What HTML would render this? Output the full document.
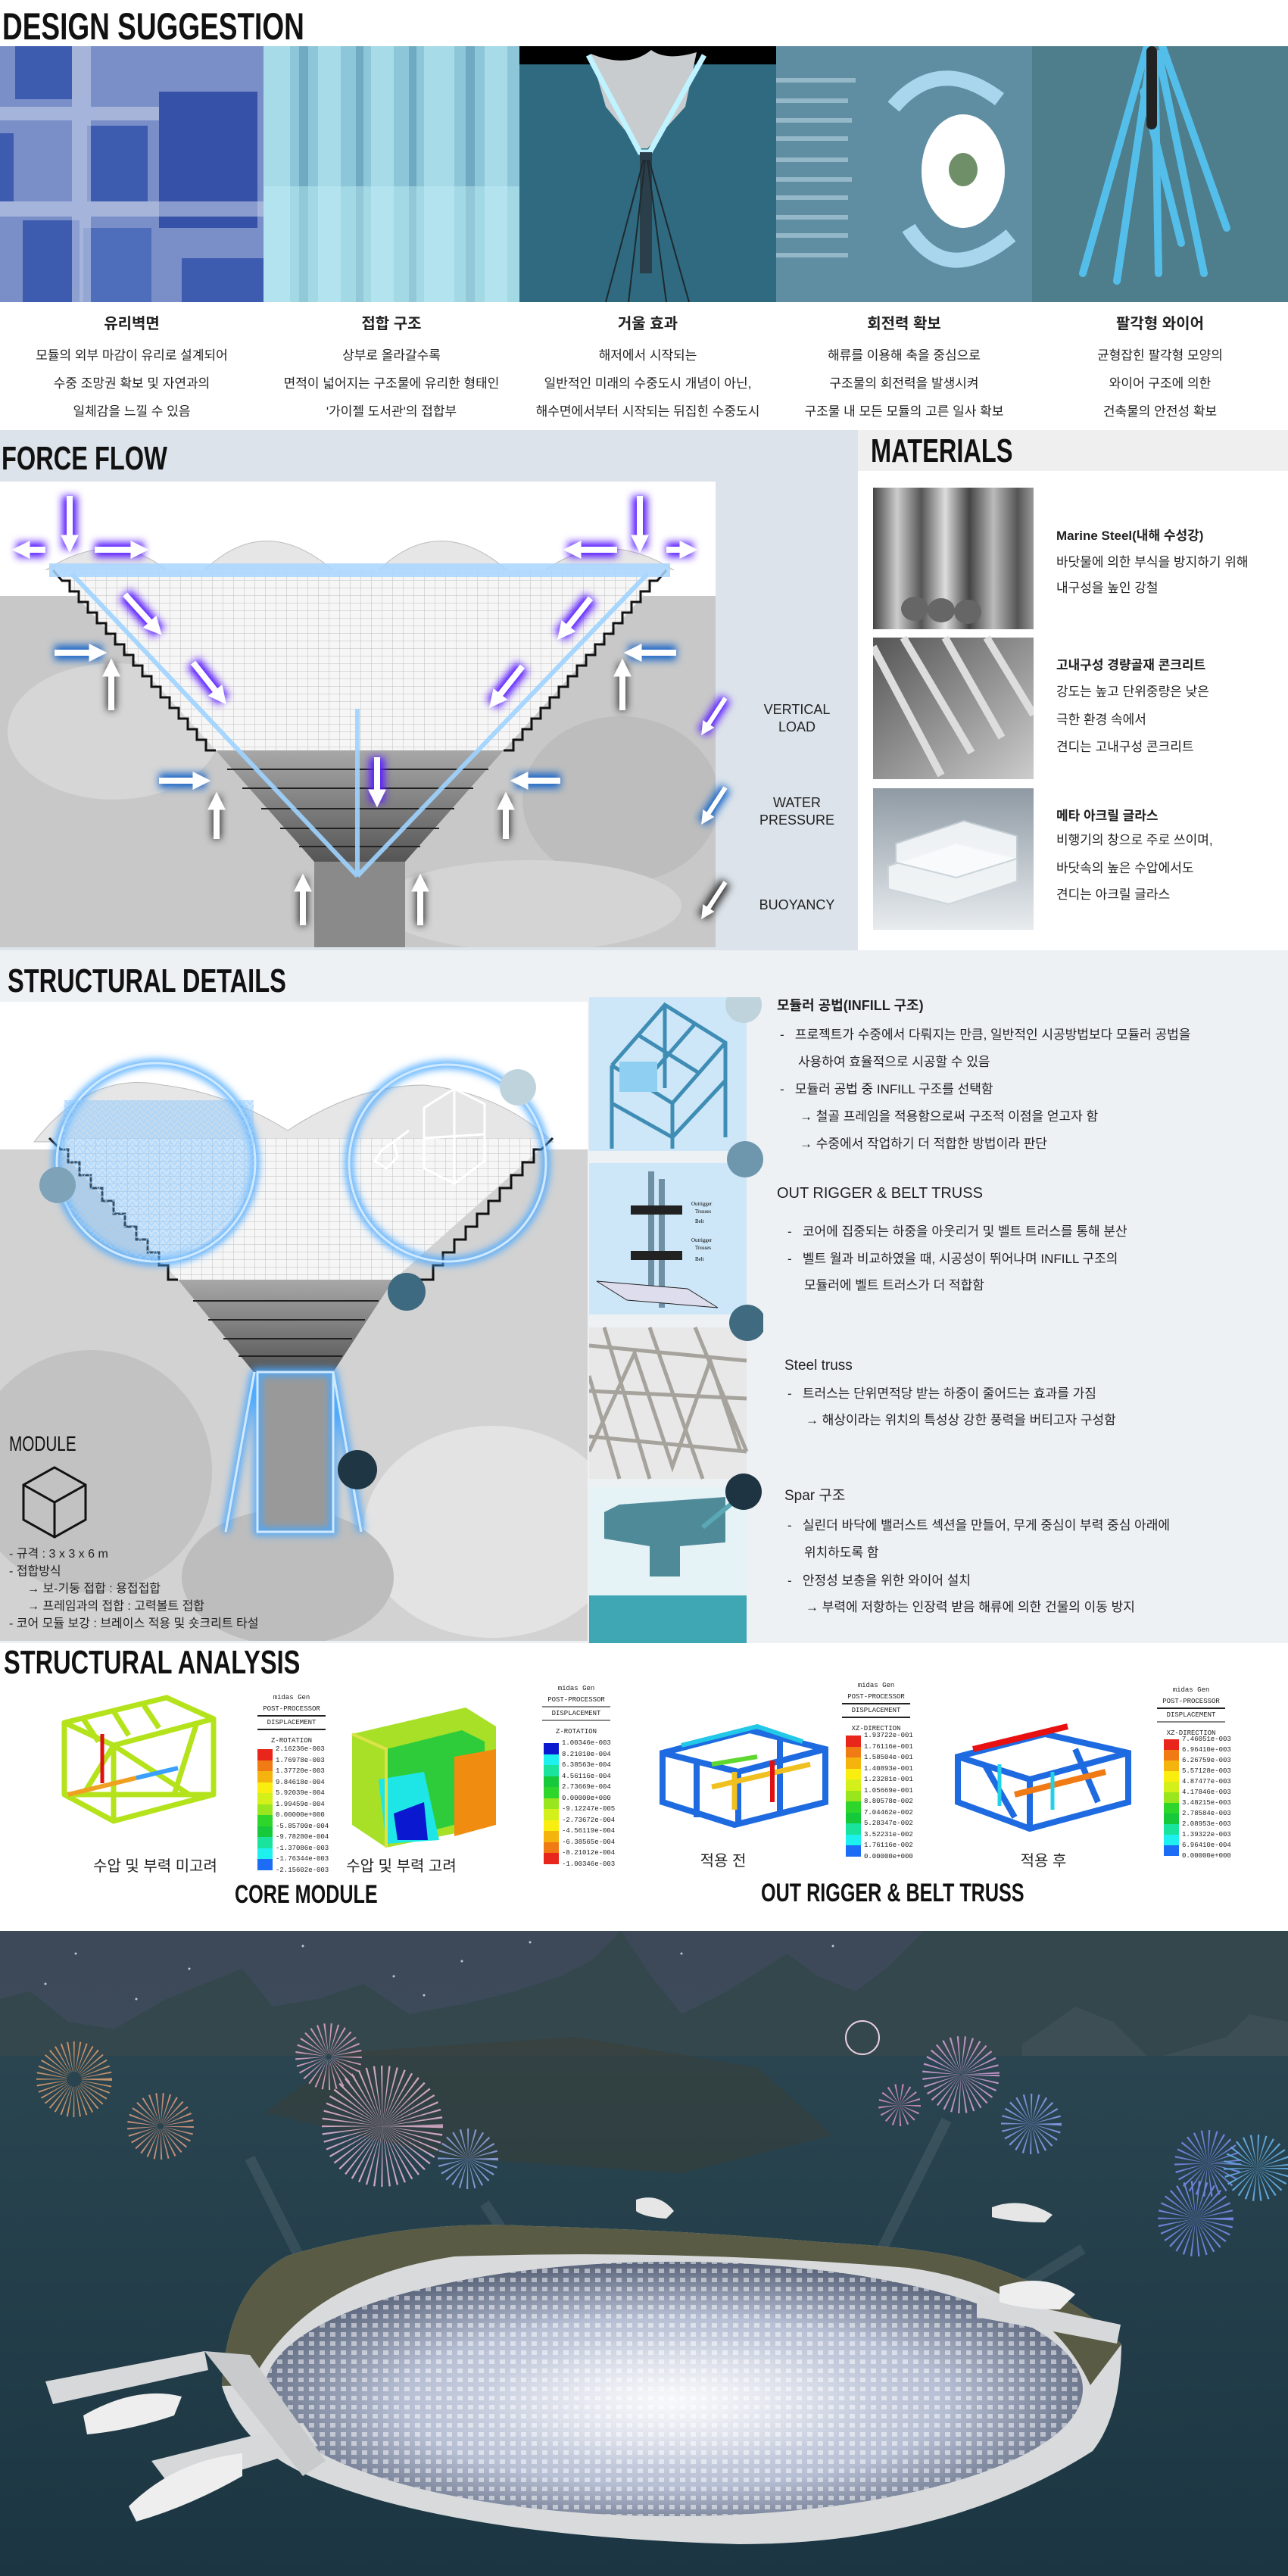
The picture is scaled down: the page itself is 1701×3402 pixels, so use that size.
<!DOCTYPE html>
<html><head><meta charset="utf-8">
<style>
*{margin:0;padding:0;box-sizing:border-box}
body{width:1701px;height:3402px;position:relative;background:#fff;font-family:"Liberation Sans","Noto Sans CJK KR",sans-serif;color:#222;overflow:hidden}
.a{position:absolute}
.h{position:absolute;font-family:"Liberation Sans Narrow","Liberation Sans",sans-serif;color:#111;transform-origin:left top;transform:scaleX(.74);white-space:nowrap;line-height:1;font-weight:bold}
.cap{position:absolute;text-align:center;font-size:17px;line-height:37px;white-space:nowrap}
.cap b{display:block;font-size:20px;margin-bottom:4px}
.t{position:absolute;font-size:17px;white-space:nowrap;line-height:1}
.tb{position:absolute;font-size:18px;font-weight:bold;white-space:nowrap;line-height:1}
.lg{position:absolute;font-family:"Liberation Mono",monospace;font-size:9px;color:#222;line-height:1}
.lg .hd{text-align:center;width:90px}
.bar{position:absolute;width:20px}
.bar div{height:var(--h)}
.vals{position:absolute;font-family:"Liberation Mono",monospace;font-size:9px;white-space:nowrap}
.vals div{height:var(--h);line-height:var(--h)}
</style></head><body>

<div class="h" style="left:3px;top:10px;font-size:50px">DESIGN SUGGESTION</div>

<svg class="a" style="left:0;top:61px" width="1701" height="338">
 <rect x="0" y="0" width="348" height="338" fill="#7a8fc8"/>
 <g fill="#3d5cb0"><rect x="20" y="0" width="75" height="70"/><rect x="115" y="105" width="80" height="100"/><rect x="0" y="115" width="18" height="90"/><rect x="30" y="230" width="75" height="108"/><rect x="210" y="60" width="130" height="180" fill="#3651a8"/><rect x="110" y="240" width="90" height="98" fill="#4e6dba"/><rect x="240" y="280" width="108" height="58"/></g>
 <g fill="#c3cde6" opacity=".6"><rect x="95" y="0" width="25" height="338"/><rect x="0" y="205" width="348" height="20"/><rect x="0" y="80" width="210" height="18"/></g>
 <rect x="348" y="0" width="338" height="338" fill="#8cc6d8"/>
 <g fill="#a8dbe8"><rect x="348" y="0" width="35" height="338"/><rect x="420" y="0" width="30" height="338"/><rect x="490" y="0" width="30" height="338"/><rect x="560" y="0" width="40" height="338"/><rect x="640" y="0" width="30" height="338"/></g>
 <g fill="#6fa9c2"><rect x="395" y="0" width="12" height="338"/><rect x="470" y="0" width="10" height="338"/><rect x="540" y="0" width="10" height="338"/><rect x="615" y="0" width="12" height="338"/></g>
 <rect x="348" y="185" width="338" height="153" fill="#bfeef6" opacity=".45"/>
 <rect x="686" y="0" width="339" height="338" fill="#2f6a80"/>
 <rect x="686" y="0" width="339" height="24" fill="#000"/>
 <path d="M780,10 Q830,30 860,5 Q880,20 920,8 L905,80 L855,135 L845,135 L800,80 Z" fill="#c9ccce"/>
 <path d="M777,12 L845,140 L858,140 L930,12" stroke="#bff3ff" stroke-width="7" fill="none"/>
 <rect x="845" y="140" width="16" height="160" fill="#2b3f4a"/>
 <g stroke="#1d2a30" stroke-width="2"><line x1="850" y1="150" x2="800" y2="338"/><line x1="852" y1="150" x2="830" y2="338"/><line x1="855" y1="150" x2="880" y2="338"/><line x1="857" y1="150" x2="910" y2="338"/></g>
 <rect x="1025" y="0" width="338" height="338" fill="#5f8ea3"/>
 <g stroke="#95b8c8" stroke-width="6"><line x1="1025" y1="45" x2="1130" y2="45"/><line x1="1025" y1="72" x2="1120" y2="72"/><line x1="1025" y1="98" x2="1125" y2="98"/><line x1="1025" y1="122" x2="1120" y2="122"/><line x1="1025" y1="150" x2="1120" y2="150"/><line x1="1025" y1="176" x2="1125" y2="176"/><line x1="1025" y1="200" x2="1120" y2="200"/><line x1="1025" y1="226" x2="1120" y2="226"/><line x1="1025" y1="250" x2="1120" y2="250"/><line x1="1025" y1="276" x2="1120" y2="276"/></g>
 <path d="M1180,80 Q1240,10 1320,70" stroke="#a9d6ec" stroke-width="20" fill="none"/>
 <path d="M1200,240 Q1250,320 1335,250" stroke="#a9d6ec" stroke-width="20" fill="none"/>
 <ellipse cx="1272" cy="165" rx="55" ry="75" fill="#fff"/>
 <ellipse cx="1272" cy="163" rx="19" ry="22" fill="#6e8f68"/>
 <rect x="1363" y="0" width="338" height="338" fill="#4e7d8b"/>
 <g stroke="#55c6f5" stroke-width="10" stroke-linecap="round" opacity=".9"><line x1="1515" y1="0" x2="1430" y2="300"/><line x1="1520" y1="10" x2="1475" y2="310"/><line x1="1525" y1="10" x2="1530" y2="300"/><line x1="1530" y1="10" x2="1590" y2="300"/><line x1="1535" y1="0" x2="1620" y2="240"/><line x1="1510" y1="60" x2="1560" y2="260"/></g>
 <rect x="1514" y="0" width="14" height="110" fill="#222" rx="7"/>
</svg>

<div class="cap" style="left:0;width:348px;top:410px"><b>유리벽면</b>모듈의 외부 마감이 유리로 설계되어<br>수중 조망권 확보 및 자연과의<br>일체감을 느낄 수 있음</div>
<div class="cap" style="left:348px;width:338px;top:410px"><b>접합 구조</b>상부로 올라갈수록<br>면적이 넓어지는 구조물에 유리한 형태인<br>'가이젤 도서관'의 접합부</div>
<div class="cap" style="left:686px;width:339px;top:410px"><b>거울 효과</b>해저에서 시작되는<br>일반적인 미래의 수중도시 개념이 아닌,<br>해수면에서부터 시작되는 뒤집힌 수중도시</div>
<div class="cap" style="left:1025px;width:338px;top:410px"><b>회전력 확보</b>해류를 이용해 축을 중심으로<br>구조물의 회전력을 발생시켜<br>구조물 내 모든 모듈의 고른 일사 확보</div>
<div class="cap" style="left:1363px;width:338px;top:410px"><b>팔각형 와이어</b>균형잡힌 팔각형 모양의<br>와이어 구조에 의한<br>건축물의 안전성 확보</div>

<div class="a" style="left:0;top:568px;width:1133px;height:690px;background:#dce3ea"></div>
<div class="h" style="left:2px;top:584px;font-size:44px">FORCE FLOW</div>
<div class="a" style="left:1133px;top:568px;width:568px;height:54px;background:#efefef"></div>
<div class="a" style="left:1133px;top:622px;width:568px;height:636px;background:#fff"></div>
<div class="h" style="left:1150px;top:574px;font-size:44px">MATERIALS</div>

<svg class="a" style="left:0;top:636px" width="945" height="615">
 <defs>
  <filter id="gp" x="-50%" y="-50%" width="200%" height="200%"><feGaussianBlur stdDeviation="5"/></filter>
  <marker id="ah" markerWidth="3" markerHeight="3" refX="1.2" refY="1.5" orient="auto"><path d="M0,0 L3,1.5 L0,3 Z" fill="#fff"/></marker>
  <pattern id="grid" width="14" height="10" patternUnits="userSpaceOnUse"><path d="M0,0 H14 M0,0 V10" stroke="#bdbdbd" stroke-width="1" fill="none"/></pattern>
  <linearGradient id="dk" x1="0" y1="0" x2="0" y2="1"><stop offset="0" stop-color="#a8a8a8"/><stop offset="1" stop-color="#555"/></linearGradient>
 </defs>
 <rect width="945" height="151" fill="#fff"/>
 <rect y="151" width="945" height="464" fill="#c8c8c8"/>
 <ellipse cx="150" cy="330" rx="140" ry="90" fill="#d6d6d6"/><ellipse cx="820" cy="420" rx="130" ry="110" fill="#bdbdbd"/><ellipse cx="700" cy="560" rx="200" ry="60" fill="#d4d4d4"/>
 <path d="M60,117 Q150,60 220,117 M270,117 Q350,40 440,117 M500,117 Q580,40 670,117 M720,117 Q800,60 890,117" fill="#e6e6e6" stroke="#bbb"/>
 <polygon points="70,117 880,117 665,355 285,355" fill="#f6f6f6"/>
 <polygon points="70,117 880,117 665,355 285,355" fill="url(#grid)"/>
 <polyline points="70,117 82,131 92,131 92,145 104,145 104,159 116,159 116,173 128,173 128,187 140,187 140,201 152,201 152,215 164,215 164,229 176,229 176,243 188,243 188,257 200,257 200,271 212,271 212,285 224,285 224,299 236,299 236,313 248,313 248,327 260,327 260,341 272,341 272,355 285,355" fill="none" stroke="#111" stroke-width="3"/>
 <polyline points="880,117 868,131 858,131 858,145 846,145 846,159 834,159 834,173 822,173 822,187 810,187 810,201 798,201 798,215 786,215 786,229 774,229 774,243 762,243 762,257 750,257 750,271 738,271 738,285 726,285 726,299 714,299 714,313 702,313 702,327 690,327 690,341 678,341 678,355 665,355" fill="none" stroke="#111" stroke-width="3"/>
 <polygon points="285,355 665,355 535,502 415,502" fill="url(#dk)"/>
 <g stroke="#222" stroke-width="2"><line x1="300" y1="380" x2="645" y2="380"/><line x1="320" y1="405" x2="625" y2="405"/><line x1="345" y1="432" x2="600" y2="432"/><line x1="370" y1="458" x2="580" y2="458"/><line x1="395" y1="482" x2="555" y2="482"/></g>
 <rect x="415" y="502" width="120" height="113" fill="#8a8a8a"/>
 <g stroke="#9fd3ff" stroke-width="6" fill="none" opacity=".9"><line x1="95" y1="122" x2="472" y2="521"/><line x1="855" y1="122" x2="472" y2="521"/><line x1="472" y1="300" x2="472" y2="521"/></g>
 <rect x="65" y="108" width="820" height="18" fill="#a8d6ff" opacity=".85"/>
 <g stroke="#5a1fff" stroke-width="20" filter="url(#gp)">
  <line x1="92" y1="19" x2="92" y2="89"/><line x1="845" y1="19" x2="845" y2="89"/>
  <line x1="60" y1="90" x2="22" y2="90"/><line x1="125" y1="90" x2="190" y2="90"/><line x1="815" y1="90" x2="750" y2="90"/><line x1="880" y1="90" x2="915" y2="90"/>
  <line x1="165" y1="149" x2="210" y2="199"/><line x1="255" y1="239" x2="295" y2="289"/><line x1="780" y1="154" x2="740" y2="204"/><line x1="690" y1="244" x2="650" y2="294"/><line x1="498" y1="364" x2="498" y2="424"/>
 </g>
 <g stroke="#1e67c8" stroke-width="20" filter="url(#gp)">
  <line x1="72" y1="226" x2="135" y2="226"/><line x1="893" y1="226" x2="830" y2="226"/><line x1="210" y1="395" x2="272" y2="395"/><line x1="740" y1="395" x2="680" y2="395"/>
 </g>
 <g stroke="#333" stroke-width="12" filter="url(#gp)">
  <line x1="147" y1="302" x2="147" y2="240"/><line x1="822" y1="302" x2="822" y2="240"/><line x1="286" y1="472" x2="286" y2="416"/><line x1="668" y1="472" x2="668" y2="416"/><line x1="400" y1="586" x2="400" y2="524"/><line x1="555" y1="586" x2="555" y2="524"/>
 </g>
 <g stroke="#fff" stroke-width="8" marker-end="url(#ah)">
  <line x1="92" y1="19" x2="92" y2="80"/><line x1="845" y1="19" x2="845" y2="80"/>
  <line x1="60" y1="90" x2="30" y2="90"/><line x1="125" y1="90" x2="182" y2="90"/><line x1="815" y1="90" x2="758" y2="90"/><line x1="880" y1="90" x2="907" y2="90"/>
  <line x1="165" y1="149" x2="204" y2="192"/><line x1="255" y1="239" x2="290" y2="283"/><line x1="780" y1="154" x2="745" y2="198"/><line x1="690" y1="244" x2="655" y2="288"/><line x1="498" y1="364" x2="498" y2="416"/>
  <line x1="72" y1="226" x2="127" y2="226"/><line x1="893" y1="226" x2="838" y2="226"/><line x1="210" y1="395" x2="264" y2="395"/><line x1="740" y1="395" x2="688" y2="395"/>
  <line x1="147" y1="302" x2="147" y2="248"/><line x1="822" y1="302" x2="822" y2="248"/><line x1="286" y1="472" x2="286" y2="424"/><line x1="668" y1="472" x2="668" y2="424"/><line x1="400" y1="586" x2="400" y2="532"/><line x1="555" y1="586" x2="555" y2="532"/>
 </g>
</svg>

<svg class="a" style="left:900px;top:900px" width="80" height="340">
 <g stroke-width="16" filter="url(#gp)"><line x1="58" y1="22" x2="28" y2="68" stroke="#5a1fff"/><line x1="58" y1="140" x2="28" y2="186" stroke="#1e67c8"/><line x1="58" y1="265" x2="28" y2="311" stroke="#333"/></g>
 <g stroke="#fff" stroke-width="6" marker-end="url(#ah)"><line x1="58" y1="22" x2="32" y2="62"/><line x1="58" y1="140" x2="32" y2="180"/><line x1="58" y1="265" x2="32" y2="305"/></g>
</svg>
<div class="a" style="left:1000px;top:926px;width:105px;text-align:center;font-size:18px;line-height:23px">VERTICAL<br>LOAD</div>
<div class="a" style="left:1000px;top:1049px;width:105px;text-align:center;font-size:18px;line-height:23px">WATER<br>PRESSURE</div>
<div class="a" style="left:995px;top:1184px;width:115px;text-align:center;font-size:18px;line-height:23px">BUOYANCY</div>

<svg class="a" style="left:1153px;top:644px" width="212" height="584">
 <defs>
  <linearGradient id="st" x1="0" y1="0" x2="1" y2="0"><stop offset="0" stop-color="#444"/><stop offset=".15" stop-color="#ccc"/><stop offset=".3" stop-color="#555"/><stop offset=".45" stop-color="#ddd"/><stop offset=".6" stop-color="#444"/><stop offset=".75" stop-color="#bbb"/><stop offset=".9" stop-color="#555"/><stop offset="1" stop-color="#999"/></linearGradient>
  <linearGradient id="cc" x1="0" y1="0" x2="1" y2="1"><stop offset="0" stop-color="#555"/><stop offset="1" stop-color="#ccc"/></linearGradient>
  <linearGradient id="gl" x1="0" y1="0" x2="0" y2="1"><stop offset="0" stop-color="#8f9aa4"/><stop offset="1" stop-color="#e8ecef"/></linearGradient>
 </defs>
 <rect width="212" height="187" fill="url(#st)"/>
 <g fill="#666"><ellipse cx="55" cy="160" rx="18" ry="16"/><ellipse cx="90" cy="162" rx="18" ry="16"/><ellipse cx="125" cy="164" rx="18" ry="16"/></g>
 <rect y="198" width="212" height="187" fill="url(#cc)"/>
 <g stroke="#ddd" stroke-width="10"><line x1="0" y1="210" x2="90" y2="380"/><line x1="40" y1="198" x2="130" y2="350"/><line x1="95" y1="198" x2="170" y2="330"/><line x1="150" y1="198" x2="212" y2="300"/></g>
 <rect y="397" width="212" height="187" fill="url(#gl)"/>
 <path d="M20,500 L110,470 L190,490 L190,520 L100,550 L20,530 Z" fill="#f4f7f8" stroke="#cdd6dc" stroke-width="2" opacity=".9"/>
 <path d="M30,470 L120,440 L190,460 L190,490 L110,515 L30,495 Z" fill="#fafcfd" stroke="#c4cfd6" stroke-width="2" opacity=".85"/>
</svg>
<div class="tb" style="left:1395px;top:699px;font-size:17px">Marine Steel(내해 수성강)</div>
<div class="t" style="left:1395px;top:734px">바닷물에 의한 부식을 방지하기 위해</div>
<div class="t" style="left:1395px;top:768px">내구성을 높인 강철</div>
<div class="tb" style="left:1395px;top:870px;font-size:17px">고내구성 경량골재 콘크리트</div>
<div class="t" style="left:1395px;top:905px">강도는 높고 단위중량은 낮은</div>
<div class="t" style="left:1395px;top:942px">극한 환경 속에서</div>
<div class="t" style="left:1395px;top:978px">견디는 고내구성 콘크리트</div>
<div class="tb" style="left:1395px;top:1069px;font-size:17px">메타 아크릴 글라스</div>
<div class="t" style="left:1395px;top:1101px">비행기의 창으로 주로 쓰이며,</div>
<div class="t" style="left:1395px;top:1138px">바닷속의 높은 수압에서도</div>
<div class="t" style="left:1395px;top:1173px">견디는 아크릴 글라스</div>

<div class="a" style="left:0;top:1255px;width:1701px;height:915px;background:#edf1f4"></div>
<div class="h" style="left:10px;top:1274px;font-size:44px">STRUCTURAL DETAILS</div>
<svg class="a" style="left:0;top:1323px" width="776" height="844">
 <defs>
  <filter id="gb" x="-20%" y="-20%" width="140%" height="140%"><feGaussianBlur stdDeviation="5"/></filter>
  <pattern id="hx" width="10" height="8" patternUnits="userSpaceOnUse"><path d="M0,8 L5,0 L10,8" stroke="#9fd2ff" fill="none" stroke-width="1.2"/></pattern>
 </defs>
 <rect width="776" height="844" fill="#d2d2d2"/>
 <rect width="776" height="195" fill="#fff"/>
 <ellipse cx="120" cy="620" rx="160" ry="160" fill="#c2c2c2"/><ellipse cx="650" cy="700" rx="170" ry="140" fill="#e3e3e3"/><ellipse cx="380" cy="760" rx="140" ry="90" fill="#bdbdbd"/>
 <path d="M45,185 Q120,90 215,110 Q300,120 380,170 Q470,110 560,110 Q660,120 730,185 Z" fill="#e6e6e6" stroke="#bbb"/>
 <polygon points="65,180 730,180 520,367 235,367" fill="#f6f6f6"/>
 <polygon points="65,180 730,180 520,367 235,367" fill="url(#grid)"/>
 <polyline points="65,180 80,195 90,195 90,212 105,212 105,229 120,229 120,246 135,246 135,263 150,263 150,280 165,280 165,297 180,297 180,314 195,314 195,331 210,331 210,348 222,348 222,367 235,367" fill="none" stroke="#111" stroke-width="3"/>
 <polyline points="730,180 715,195 705,195 705,212 690,212 690,229 675,229 675,246 660,246 660,263 645,263 645,280 630,280 630,297 615,297 615,314 600,314 600,331 585,331 585,348 572,348 572,367 520,367" fill="none" stroke="#111" stroke-width="3"/>
 <polygon points="235,367 520,367 440,489 335,489" fill="url(#dk)"/>
 <g stroke="#222" stroke-width="2"><line x1="255" y1="395" x2="500" y2="395"/><line x1="275" y1="420" x2="482" y2="420"/><line x1="295" y1="445" x2="465" y2="445"/><line x1="315" y1="468" x2="452" y2="468"/></g>
 <rect x="340" y="489" width="100" height="211" fill="#999"/>
 <g stroke="#4aa8ff" stroke-width="10" fill="none" filter="url(#gb)"><rect x="340" y="489" width="100" height="211"/><line x1="336" y1="489" x2="298" y2="700"/><line x1="440" y1="489" x2="477" y2="700"/><circle cx="206" cy="212" r="131"/><circle cx="591" cy="213" r="130"/></g>
 <g stroke="#cfe9ff" stroke-width="3" fill="none"><rect x="340" y="489" width="100" height="211"/><line x1="336" y1="489" x2="298" y2="700"/><line x1="440" y1="489" x2="477" y2="700"/><circle cx="206" cy="212" r="131"/><circle cx="591" cy="213" r="130"/></g>
 <path d="M85,130 L335,130 L335,230 Q300,320 206,343 Q120,330 80,260 Z" fill="#7bc0ff" opacity=".35"/>
 <path d="M85,130 L335,130 L335,230 Q300,320 206,343 Q120,330 80,260 Z" fill="url(#hx)" opacity=".8"/>
 <g stroke="#fff" stroke-width="3" fill="none"><path d="M600,115 L640,135 L640,210 L600,240 L560,220 L560,140 Z"/><line x1="600" y1="115" x2="600" y2="240"/><line x1="560" y1="180" x2="640" y2="175"/><path d="M540,170 L520,185 M505,195 L520,185 L525,205 L510,220 L495,210 Z"/></g>
 <circle cx="76" cy="242" r="24" fill="#7ea3b8"/>
 <circle cx="684" cy="113" r="24" fill="#bfd3dd"/>
 <circle cx="537" cy="383" r="25" fill="#3d6a80"/>
 <circle cx="472" cy="618" r="26" fill="#1f3644"/>
</svg>
<div class="h" style="left:12px;top:1893px;font-size:28px;font-weight:normal">MODULE</div>
<svg class="a" style="left:28px;top:1935px" width="90" height="98"><path d="M44,3 L85,26 L85,72 L44,95 L3,72 L3,26 Z M3,26 L44,49 L85,26 M44,49 L44,95" fill="none" stroke="#111" stroke-width="3"/></svg>
<div class="t" style="left:12px;top:2045px;font-size:16px">- 규격 : 3 x 3 x 6 m</div>
<div class="t" style="left:12px;top:2068px;font-size:16px">- 접합방식</div>
<div class="t" style="left:36px;top:2091px;font-size:16px">→ 보-기둥 접합 : 용접접합</div>
<div class="t" style="left:36px;top:2114px;font-size:16px">→ 프레임과의 접합 : 고력볼트 접합</div>
<div class="t" style="left:12px;top:2137px;font-size:16px">- 코어 모듈 보강 : 브레이스 적용 및 숏크리트 타설</div>

<svg class="a" style="left:778px;top:1317px" width="230" height="853">
 <rect x="0" y="0" width="208" height="203" fill="#cde7f8"/>
 <g stroke="#3f8db5" stroke-width="5" fill="none"><path d="M30,90 L100,10 L180,60 L180,185 M100,10 L100,120 M30,90 L30,200 M30,90 L110,140 L180,60 M110,140 L110,200 M30,140 L110,185 L180,110 M65,50 L145,100 M140,35 L70,115"/></g>
 <rect x="40" y="85" width="50" height="40" fill="#8fd0f2"/>
 <rect x="0" y="219" width="208" height="200" fill="#cde7f8"/>
 <rect x="78" y="230" width="8" height="170" fill="#6e8fa4"/><rect x="92" y="240" width="8" height="170" fill="#6e8fa4"/>
 <g fill="#222"><rect x="55" y="275" width="68" height="12"/><rect x="55" y="335" width="68" height="12"/></g>
 <path d="M10,375 L130,385 L170,410 L50,400 Z" fill="#dde" stroke="#222"/>
 <text x="135" y="275" font-size="7" font-family="Liberation Serif">Outrigger</text><text x="140" y="285" font-size="7" font-family="Liberation Serif">Trusses</text><text x="140" y="298" font-size="7" font-family="Liberation Serif">Belt</text>
 <text x="135" y="323" font-size="7" font-family="Liberation Serif">Outrigger</text><text x="140" y="333" font-size="7" font-family="Liberation Serif">Trusses</text><text x="140" y="348" font-size="7" font-family="Liberation Serif">Belt</text>
 <rect x="0" y="436" width="208" height="200" fill="#e8e8e8"/>
 <g stroke="#a5a39c" stroke-width="5" fill="none"><path d="M0,460 L208,480 M0,520 L208,530 M0,580 L208,600 M20,436 L80,636 M80,436 L150,636 M140,436 L208,600 M0,600 L60,470 L110,620 L160,480 L200,600 M0,500 L40,636"/></g>
 <rect x="0" y="647" width="208" height="206" fill="#e6f3f6"/>
 <path d="M20,680 L40,670 L180,660 L180,720 L120,725 L120,765 L80,765 L80,725 L20,715 Z" fill="#4f8a99"/>
 <path d="M150,700 L205,655" stroke="#5aa8b5" stroke-width="6"/>
 <rect x="0" y="790" width="208" height="63" fill="#3fa6b3"/>
 <circle cx="204" cy="10" r="24" fill="#bfd3dd"/>
 <circle cx="206" cy="214" r="24" fill="#6e97ad"/>
 <circle cx="209" cy="430" r="24" fill="#3f6a80"/>
 <circle cx="204" cy="653" r="24" fill="#1e3442"/>
</svg>

<div class="tb" style="left:1026px;top:1319px">모듈러 공법(INFILL 구조)</div>
<div class="t" style="left:1030px;top:1358px">-&nbsp;&nbsp; 프로젝트가 수중에서 다뤄지는 만큼, 일반적인 시공방법보다 모듈러 공법을</div>
<div class="t" style="left:1054px;top:1394px">사용하여 효율적으로 시공할 수 있음</div>
<div class="t" style="left:1030px;top:1430px">-&nbsp;&nbsp; 모듈러 공법 중 INFILL 구조를 선택함</div>
<div class="t" style="left:1056px;top:1466px">→ 철골 프레임을 적용함으로써 구조적 이점을 얻고자 함</div>
<div class="t" style="left:1056px;top:1502px">→ 수중에서 작업하기 더 적합한 방법이라 판단</div>
<div class="t" style="left:1026px;top:1566px;font-size:20px">OUT RIGGER &amp; BELT TRUSS</div>
<div class="t" style="left:1040px;top:1618px">-&nbsp;&nbsp; 코어에 집중되는 하중을 아웃리거 및 벨트 트러스를 통해 분산</div>
<div class="t" style="left:1040px;top:1654px">-&nbsp;&nbsp; 벨트 월과 비교하였을 때, 시공성이 뛰어나며 INFILL 구조의</div>
<div class="t" style="left:1062px;top:1689px">모듈러에 벨트 트러스가 더 적합함</div>
<div class="t" style="left:1036px;top:1794px;font-size:19px">Steel truss</div>
<div class="t" style="left:1040px;top:1832px">-&nbsp;&nbsp; 트러스는 단위면적당 받는 하중이 줄어드는 효과를 가짐</div>
<div class="t" style="left:1064px;top:1867px">→ 해상이라는 위치의 특성상 강한 풍력을 버티고자 구성함</div>
<div class="t" style="left:1036px;top:1966px;font-size:19px">Spar 구조</div>
<div class="t" style="left:1040px;top:2006px">-&nbsp;&nbsp; 실린더 바닥에 밸러스트 섹션을 만들어, 무게 중심이 부력 중심 아래에</div>
<div class="t" style="left:1062px;top:2042px">위치하도록 함</div>
<div class="t" style="left:1040px;top:2079px">-&nbsp;&nbsp; 안정성 보충을 위한 와이어 설치</div>
<div class="t" style="left:1064px;top:2114px">→ 부력에 저항하는 인장력 받음 해류에 의한 건물의 이동 방지</div>

<div class="h" style="left:5px;top:2174px;font-size:44px">STRUCTURAL ANALYSIS</div>
<svg class="a" style="left:0;top:2230px" width="1701" height="220">
 <g stroke="#b4e31c" stroke-width="7" fill="none" stroke-linejoin="round">
  <path d="M85,45 L220,12 L282,40 L282,140 L150,175 L85,140 Z M85,45 L150,75 L282,40 M150,75 L150,175 M85,140 L282,140"/>
  <path d="M110,40 L130,70 M150,30 L170,62 M190,22 L210,52 M150,75 L110,140 M150,75 L250,140 M260,45 L230,140"/>
 </g>
 <line x1="90" y1="140" x2="180" y2="118" stroke="#f0a020" stroke-width="6"/><line x1="180" y1="118" x2="235" y2="105" stroke="#3aa0ff" stroke-width="6"/>
 <line x1="135" y1="60" x2="135" y2="125" stroke="#e01010" stroke-width="5"/>
 <path d="M465,60 L615,25 L655,50 L655,180 L510,210 L465,180 Z" fill="#a8e028"/>
 <path d="M510,80 L610,55 L640,70 L640,170 L560,190 L510,160 Z" fill="#2ecc3a"/>
 <path d="M500,120 L560,110 L580,200 L510,205 Z" fill="#1ee6e6"/>
 <path d="M520,165 L560,150 L565,200 L525,200 Z" fill="#0a18d0"/>
 <path d="M600,90 L655,80 L655,180 L600,195 Z" fill="#f08c10"/>
 <path d="M465,60 L510,80 L510,210" fill="none" stroke="#dde24a" stroke-width="4"/>
 <g stroke="#1e6ae0" stroke-width="8" fill="none"><path d="M875,85 L990,55 L1090,80 L1090,150 L970,180 L875,150 Z M875,85 L975,110 L1090,80 M975,110 L975,180 M920,95 L920,170 M1030,65 L1030,165"/></g>
 <g stroke="#22c8e8" stroke-width="6" fill="none"><path d="M900,75 L1000,50 L1060,70"/></g>
 <g stroke="#f0c020" stroke-width="7"><line x1="940" y1="130" x2="1070" y2="100"/><line x1="970" y1="110" x2="970" y2="160"/></g>
 <line x1="1020" y1="95" x2="1020" y2="150" stroke="#e01010" stroke-width="6"/>
 <line x1="940" y1="100" x2="1000" y2="90" stroke="#5ed830" stroke-width="6"/>
 <g stroke="#1e6ae0" stroke-width="8" fill="none"><path d="M1265,90 L1380,60 L1490,85 L1490,150 L1360,185 L1265,150 Z M1265,90 L1360,120 L1490,85 M1360,120 L1360,185 M1300,100 L1340,170 M1420,80 L1450,150"/></g>
 <line x1="1285" y1="80" x2="1410" y2="50" stroke="#e81010" stroke-width="8"/>
 <line x1="1340" y1="140" x2="1460" y2="110" stroke="#f07a14" stroke-width="8"/>
 <g stroke="#22d0e8" stroke-width="5"><line x1="1390" y1="110" x2="1390" y2="160"/><line x1="1320" y1="100" x2="1320" y2="155"/></g>
</svg>

<div class="lg" style="left:340px;top:2238px;width:100px">
 <div class="hd">midas Gen</div><div class="hd" style="margin-top:6px;border-bottom:2px solid #222;padding-bottom:3px">POST-PROCESSOR</div><div class="hd" style="margin-top:4px;border-bottom:2px solid #222;padding-bottom:3px">DISPLACEMENT</div><div class="hd" style="margin-top:10px">Z-ROTATION</div>
</div>
<div class="bar" style="left:340px;top:2310px;--h:14.5px"><div style="background:#e8261b"></div><div style="background:#f07a14"></div><div style="background:#f5b30e"></div><div style="background:#f9ee10"></div><div style="background:#d4f01a"></div><div style="background:#9ae61e"></div><div style="background:#2ed62b"></div><div style="background:#16c93a"></div><div style="background:#19e39d"></div><div style="background:#1ef0f0"></div><div style="background:#1c6cf5"></div></div>
<div class="vals" style="left:364px;top:2303px;--h:14.5px"><div>2.16236e-003</div><div>1.76978e-003</div><div>1.37720e-003</div><div>9.84618e-004</div><div>5.92039e-004</div><div>1.99459e-004</div><div>0.00000e+000</div><div>-5.85700e-004</div><div>-9.78280e-004</div><div>-1.37086e-003</div><div>-1.76344e-003</div><div>-2.15602e-003</div></div>

<div class="lg" style="left:716px;top:2226px;width:100px">
 <div class="hd">midas Gen</div><div class="hd" style="margin-top:6px;border-bottom:2px solid #888;padding-bottom:3px">POST-PROCESSOR</div><div class="hd" style="margin-top:4px;border-bottom:2px solid #888;padding-bottom:3px">DISPLACEMENT</div><div class="hd" style="margin-top:10px">Z-ROTATION</div>
</div>
<div class="bar" style="left:718px;top:2302px;--h:14.5px"><div style="background:#0a18d0"></div><div style="background:#1ef0f0"></div><div style="background:#19e39d"></div><div style="background:#16c93a"></div><div style="background:#2ed62b"></div><div style="background:#9ae61e"></div><div style="background:#d4f01a"></div><div style="background:#f9ee10"></div><div style="background:#f5b30e"></div><div style="background:#f07a14"></div><div style="background:#e8261b"></div></div>
<div class="vals" style="left:742px;top:2295px;--h:14.5px"><div>1.00346e-003</div><div>8.21010e-004</div><div>6.38563e-004</div><div>4.56116e-004</div><div>2.73669e-004</div><div>0.00000e+000</div><div>-9.12247e-005</div><div>-2.73672e-004</div><div>-4.56119e-004</div><div>-6.38565e-004</div><div>-8.21012e-004</div><div>-1.00346e-003</div></div>

<div class="lg" style="left:1112px;top:2222px;width:100px">
 <div class="hd">midas Gen</div><div class="hd" style="margin-top:6px;border-bottom:2px solid #222;padding-bottom:3px">POST-PROCESSOR</div><div class="hd" style="margin-top:4px;border-bottom:2px solid #222;padding-bottom:3px">DISPLACEMENT</div><div class="hd" style="margin-top:10px">XZ-DIRECTION</div>
</div>
<div class="bar" style="left:1117px;top:2292px;--h:14.5px"><div style="background:#e8261b"></div><div style="background:#f07a14"></div><div style="background:#f5b30e"></div><div style="background:#f9ee10"></div><div style="background:#d4f01a"></div><div style="background:#9ae61e"></div><div style="background:#2ed62b"></div><div style="background:#16c93a"></div><div style="background:#19e39d"></div><div style="background:#1ef0f0"></div><div style="background:#1c6cf5"></div></div>
<div class="vals" style="left:1141px;top:2285px;--h:14.5px"><div>1.93722e-001</div><div>1.76116e-001</div><div>1.58504e-001</div><div>1.40893e-001</div><div>1.23281e-001</div><div>1.05669e-001</div><div>8.80578e-002</div><div>7.04462e-002</div><div>5.28347e-002</div><div>3.52231e-002</div><div>1.76116e-002</div><div>0.00000e+000</div></div>

<div class="lg" style="left:1528px;top:2228px;width:100px">
 <div class="hd">midas Gen</div><div class="hd" style="margin-top:6px;border-bottom:2px solid #222;padding-bottom:3px">POST-PROCESSOR</div><div class="hd" style="margin-top:4px;border-bottom:2px solid #888;padding-bottom:3px">DISPLACEMENT</div><div class="hd" style="margin-top:10px">XZ-DIRECTION</div>
</div>
<div class="bar" style="left:1537px;top:2297px;--h:14px"><div style="background:#e8261b"></div><div style="background:#f07a14"></div><div style="background:#f5b30e"></div><div style="background:#f9ee10"></div><div style="background:#d4f01a"></div><div style="background:#9ae61e"></div><div style="background:#2ed62b"></div><div style="background:#16c93a"></div><div style="background:#19e39d"></div><div style="background:#1ef0f0"></div><div style="background:#1c6cf5"></div></div>
<div class="vals" style="left:1561px;top:2290px;--h:14px"><div>7.46051e-003</div><div>6.96410e-003</div><div>6.26759e-003</div><div>5.57128e-003</div><div>4.87477e-003</div><div>4.17846e-003</div><div>3.48215e-003</div><div>2.78584e-003</div><div>2.08953e-003</div><div>1.39322e-003</div><div>6.96410e-004</div><div>0.00000e+000</div></div>

<div class="t" style="left:95px;top:2455px;width:220px;text-align:center;font-size:20px">수압 및 부력 미고려</div>
<div class="t" style="left:430px;top:2455px;width:200px;text-align:center;font-size:20px">수압 및 부력 고려</div>
<div class="t" style="left:890px;top:2448px;width:130px;text-align:center;font-size:20px">적용 전</div>
<div class="t" style="left:1313px;top:2448px;width:130px;text-align:center;font-size:20px">적용 후</div>
<div class="h" style="left:310px;top:2485px;font-size:34px">CORE MODULE</div>
<div class="h" style="left:1005px;top:2483px;font-size:34px">OUT RIGGER &amp; BELT TRUSS</div>

<svg class="a" style="left:0;top:2550px" width="1701" height="852">
 <defs>
  <linearGradient id="sky" x1="0" y1="0" x2="0" y2="1"><stop offset="0" stop-color="#3d4959"/><stop offset="1" stop-color="#3a4d58"/></linearGradient>
  <linearGradient id="sea" x1="0" y1="0" x2="0" y2="1"><stop offset="0" stop-color="#2a4550"/><stop offset="1" stop-color="#1b3642"/></linearGradient>
  <radialGradient id="bowl" cx=".5" cy=".55" r=".55"><stop offset="0" stop-color="#eef0f6"/><stop offset=".6" stop-color="#b7bfd4"/><stop offset="1" stop-color="#59647a"/></radialGradient>
  <pattern id="dots" width="14" height="12" patternUnits="userSpaceOnUse"><rect x="2" y="2" width="7" height="6" fill="#fff" opacity=".7"/></pattern>
  <radialGradient id="glow" cx=".5" cy=".5" r=".5"><stop offset="0" stop-color="#fff" stop-opacity=".9"/><stop offset="1" stop-color="#fff" stop-opacity="0"/></radialGradient>
 </defs>
 <rect width="1701" height="852" fill="url(#sky)"/>
 <g fill="#fff" opacity=".7"><circle cx="100" cy="30" r="1.5"/><circle cx="250" cy="50" r="1.5"/><circle cx="400" cy="20" r="1.5"/><circle cx="520" cy="60" r="1.5"/><circle cx="610" cy="40" r="1.5"/><circle cx="700" cy="15" r="1.5"/><circle cx="900" cy="30" r="1.5"/><circle cx="1100" cy="20" r="1.5"/><circle cx="60" cy="70" r="1.5"/><circle cx="180" cy="90" r="1.5"/><circle cx="560" cy="85" r="1.5"/></g>
 <polygon points="0,90 40,80 90,120 150,130 220,90 320,50 360,100 420,90 480,70 540,110 620,95 680,80 740,60 780,40 820,0 860,60 900,110 960,80 1040,30 1080,60 1130,80 1170,50 1220,0 1701,0 1701,175 0,175" fill="#34474d"/>
 <polygon points="1350,150 1420,100 1470,120 1520,170 1620,140 1650,110 1701,120 1701,200 1350,200" fill="#3d4f55"/>
 <rect y="165" width="1701" height="687" fill="url(#sea)"/>
 <polygon points="460,160 760,140 1000,180 1100,270 900,320 600,300 350,240" fill="#3a3d35" opacity=".5"/>
 <g fill="none" stroke-width="40" stroke-dasharray="1.2 4" opacity=".85">
  <circle cx="98" cy="196" r="30" stroke="#e0a070"/>
  <circle cx="212" cy="258" r="24" stroke="#e09a80"/>
  <circle cx="434" cy="166" r="24" stroke="#e6a8c8"/>
  <circle cx="505" cy="258" r="40" stroke="#e8b6d6" stroke-width="80"/>
  <circle cx="618" cy="301" r="20" stroke="#8fa6e6"/>
  <circle cx="1269" cy="190" r="26" stroke="#d8a0d8" stroke-width="50"/>
  <circle cx="1188" cy="230" r="14" stroke="#d890c0" stroke-width="28"/>
  <circle cx="1362" cy="255" r="20" stroke="#8aa0f0"/>
  <circle cx="1595" cy="307" r="22" stroke="#7d8ef0" stroke-width="44"/>
  <circle cx="1660" cy="313" r="22" stroke="#6ab6f0" stroke-width="44"/>
  <circle cx="1579" cy="380" r="25" stroke="#7d8ef0" stroke-width="50"/>
 </g>
 <circle cx="1139" cy="141" r="22" fill="none" stroke="#e8d0e0" stroke-width="2"/>
 <g stroke="#fff" stroke-width="14" opacity=".08"><line x1="330" y1="300" x2="430" y2="500"/><line x1="640" y1="360" x2="720" y2="480"/><line x1="1250" y1="250" x2="1150" y2="450"/><line x1="1430" y1="420" x2="1300" y2="500"/></g>
 <path d="M293,601 Q300,470 380,429 Q540,380 705,390 Q900,395 1085,411 Q1250,420 1302,441 Q1420,480 1481,546 Q1480,640 1443,687 Q1250,810 976,810 Q620,800 434,730 Q320,690 293,601 Z" fill="#d8dadc"/>
 <path d="M293,601 Q300,470 380,429 Q540,380 705,390 Q900,395 1085,411 Q1250,420 1302,441 Q1420,480 1481,546 L1440,600 Q1380,470 1200,445 Q900,420 600,430 Q400,460 330,600 Z" fill="#5a5b44"/>
 <ellipse cx="890" cy="605" rx="540" ry="168" fill="url(#bowl)"/>
 <ellipse cx="890" cy="605" rx="540" ry="168" fill="url(#dots)" opacity=".7"/>
 <ellipse cx="890" cy="620" rx="250" ry="90" fill="url(#glow)" opacity=".6"/>
 <path d="M60,595 L270,555 L275,580 L70,625 Z" fill="#d6d8da"/>
 <path d="M200,700 L400,650 L420,680 L230,740 Z" fill="#d6d8da"/>
 <path d="M270,555 L330,560 L430,700 L400,720 Z" fill="#c8cacc"/>
 <path d="M110,640 Q180,600 240,615 L230,640 Q170,660 115,665 Z" fill="#eee"/>
 <path d="M170,760 Q230,700 320,690 L320,720 Q250,760 180,780 Z" fill="#eee"/>
 <path d="M1290,480 L1480,520 L1475,545 L1290,510 Z" fill="#d6d8da"/>
 <path d="M1320,470 Q1380,450 1420,480 L1400,500 Q1350,500 1320,490 Z" fill="#eee"/>
 <path d="M840,355 Q870,345 890,370 L880,380 Q850,378 840,370 Z" fill="#e6e6e6"/>
 <path d="M1310,365 Q1350,350 1390,375 L1380,385 Q1340,385 1310,378 Z" fill="#e6e6e6"/>
</svg>
</body></html>
